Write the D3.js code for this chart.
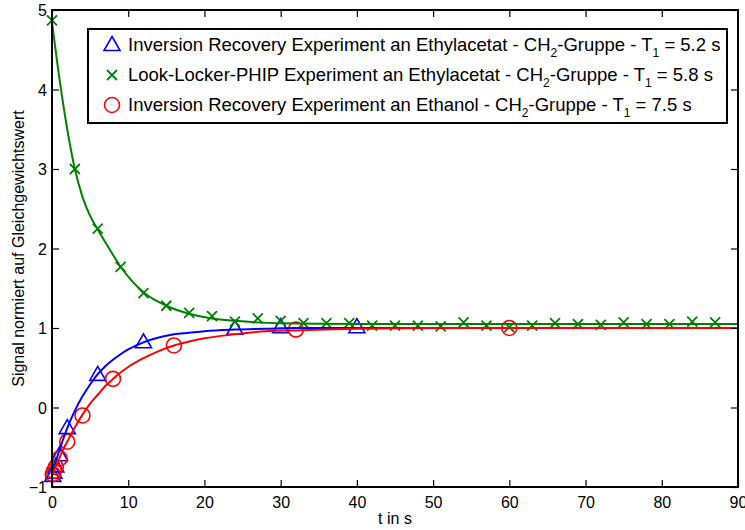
<!DOCTYPE html>
<html>
<head>
<meta charset="utf-8">
<script src="https://cdn.jsdelivr.net/npm/d3@7"></script>
<style>
  body { margin: 0; background: #fff; }
  svg { display: block; font-family: "Liberation Sans", Arial, Helvetica, sans-serif; }
</style>
</head>
<body>
<div id="chart"></div>
<script>
// data
const tBlue = [0.1, 0.25, 0.5, 1, 2, 6, 12, 24, 30, 40];
const vBlue = [-0.86, -0.82, -0.74, -0.6, -0.26, 0.41, 0.82, 0.99, 1.01, 1.01];

const tGreen = [0, 3, 6, 9, 12, 15, 18, 21, 24, 27, 30, 33, 36, 39, 42, 45, 48, 51, 54, 57, 60, 63, 66, 69, 72, 75, 78, 81, 84, 87];
const vGreen = [4.87, 3.0, 2.25, 1.77, 1.44, 1.28, 1.19, 1.15, 1.08, 1.12, 1.09, 1.06, 1.06, 1.06, 1.03, 1.03, 1.03, 1.02, 1.07, 1.03, 1.01, 1.03, 1.06, 1.05, 1.04, 1.07, 1.05, 1.05, 1.08, 1.07];

const tRed = [0.1, 0.25, 0.5, 1, 2, 4, 8, 16, 32, 60];
const vRed = [-0.84, -0.8, -0.75, -0.64, -0.43, -0.1, 0.36, 0.78, 0.98, 1.0];

// fit curves
const tFitBlue = [0, 0.5, 1, 1.5, 2, 3, 4, 5, 6, 7, 8, 9, 10, 12, 14, 16, 18, 20, 24, 28, 32, 40, 90];
const vFitBlue = [-0.85, -0.68, -0.53, -0.39, -0.26, -0.04, 0.14, 0.29, 0.42, 0.52, 0.6, 0.67, 0.73, 0.82, 0.88, 0.92, 0.94, 0.96, 0.98, 0.99, 1.0, 1.0, 1.0];

const tFitGreen = [0, 1, 2, 3, 4, 5, 6, 7.5, 9, 10.5, 12, 15, 18, 21, 24, 30, 40, 90];
const vFitGreen = [4.85, 4.12, 3.5, 3.0, 2.65, 2.41, 2.24, 2.0, 1.77, 1.59, 1.45, 1.28, 1.18, 1.12, 1.09, 1.06, 1.05, 1.05];

const tFitRed = [0, 0.5, 1, 1.5, 2, 3, 4, 5, 6, 7, 8, 9, 10, 12, 14, 16, 18, 20, 24, 28, 32, 40, 50, 90];
const vFitRed = [-0.86, -0.74, -0.63, -0.52, -0.43, -0.25, -0.09, 0.05, 0.16, 0.27, 0.36, 0.44, 0.51, 0.62, 0.71, 0.78, 0.83, 0.87, 0.92, 0.96, 0.97, 0.99, 1.0, 1.0];

const xTicks = [0, 10, 20, 30, 40, 50, 60, 70, 80, 90];
const yTicks = [-1, 0, 1, 2, 3, 4, 5];

const legendRows = [
  { sym: 'tri', color: '#0000ff', parts: ['Inversion Recovery Experiment an Ethylacetat - CH', '2', '-Gruppe - T', '1', ' = 5.2 s'] },
  { sym: 'x', color: '#008000', parts: ['Look-Locker-PHIP Experiment an Ethylacetat - CH', '2', '-Gruppe - T', '1', ' = 5.8 s'] },
  { sym: 'circ', color: '#ff0000', parts: ['Inversion Recovery Experiment an Ethanol - CH', '2', '-Gruppe - T', '1', ' = 7.5 s'] }
];

const width = 745;
const height = 530;
const margin = { top: 10, right: 7, bottom: 43, left: 52 };
const iw = width - margin.left - margin.right;
const ih = height - margin.top - margin.bottom;

const svg = d3.select('#chart')
  .append('svg')
    .attr('width', width)
    .attr('height', height);

const g = svg.append('g')
  .attr('transform', `translate(${margin.left},${margin.top})`);

const x = d3.scaleLinear().domain([0, 90]).range([0, iw]);
const y = d3.scaleLinear().domain([-1, 5]).range([ih, 0]);

const zip = (ts, vs) => ts.map((t, i) => [t, vs[i]]);

// markers
function drawMarker(sel, sym, color) {
  if (sym === 'tri') {
    sel.append('path')
      .attr('d', 'M0,-8.5L8,5.5L-8,5.5Z')
      .attr('fill', 'none').attr('stroke', color).attr('stroke-width', 1.6);
  } else if (sym === 'circ') {
    sel.append('circle')
      .attr('r', 7.5)
      .attr('fill', 'none').attr('stroke', color).attr('stroke-width', 1.6);
  } else {
    sel.append('path')
      .attr('d', 'M-5,-5L5,5M-5,5L5,-5')
      .attr('fill', 'none').attr('stroke', color).attr('stroke-width', 1.8);
  }
}

const series = [
  { pts: zip(tBlue, vBlue), sym: 'tri', color: '#0000ff' },
  { pts: zip(tGreen, vGreen), sym: 'x', color: '#008000' },
  { pts: zip(tRed, vRed), sym: 'circ', color: '#ff0000' }
];

series.forEach(s => {
  g.append('g').selectAll('g')
    .data(s.pts)
    .enter()
    .append('g')
      .attr('transform', d => `translate(${x(d[0])},${y(d[1])})`)
      .each(function () { drawMarker(d3.select(this), s.sym, s.color); });
});

// fit lines
const line = d3.line()
  .x(d => x(d[0]))
  .y(d => y(d[1]))
  .curve(d3.curveMonotoneX);

const fits = [
  { pts: zip(tFitBlue, vFitBlue), color: '#0000ff' },
  { pts: zip(tFitGreen, vFitGreen), color: '#008000' },
  { pts: zip(tFitRed, vFitRed), color: '#ff0000' }
];

fits.forEach(f => {
  g.append('path')
    .datum(f.pts)
    .attr('d', line)
    .attr('fill', 'none')
    .attr('stroke', f.color)
    .attr('stroke-width', 2);
});

// axes, ticks pointing inwards, box on
const tickLen = 7;
const axisFont = 16;

const xAxis = g.append('g')
  .attr('transform', `translate(0,${ih})`)
  .call(d3.axisBottom(x).tickValues(xTicks).tickSizeInner(-tickLen).tickSizeOuter(0).tickPadding(10).tickFormat(d3.format('d')));
const xAxisTop = g.append('g')
  .call(d3.axisTop(x).tickValues(xTicks).tickSizeInner(-tickLen).tickSizeOuter(0).tickFormat(''));
const yAxis = g.append('g')
  .call(d3.axisLeft(y).tickValues(yTicks).tickSizeInner(-tickLen).tickSizeOuter(0).tickPadding(5).tickFormat(d3.format('d')));
const yAxisRight = g.append('g')
  .attr('transform', `translate(${iw},0)`)
  .call(d3.axisRight(y).tickValues(yTicks).tickSizeInner(-tickLen).tickSizeOuter(0).tickFormat(''));

[xAxis, xAxisTop, yAxis, yAxisRight].forEach(a => {
  a.select('.domain').remove();
  a.selectAll('line').attr('stroke', '#000').attr('stroke-width', 1.2);
  a.selectAll('text')
    .attr('fill', '#000')
    .style('font-family', '"Liberation Sans", Arial, sans-serif')
    .style('font-size', axisFont + 'px');
});
yAxis.selectAll('text').attr('dy', '0.36em');

g.append('rect')
  .attr('width', iw)
  .attr('height', ih)
  .attr('fill', 'none')
  .attr('stroke', '#000')
  .attr('stroke-width', 2);

// axis titles
svg.append('text')
  .attr('x', margin.left + x(45))
  .attr('y', 524)
  .attr('text-anchor', 'middle')
  .style('font-size', '16px')
  .text('t in s');

svg.append('text')
  .attr('transform', `translate(24,${margin.top + ih / 2}) rotate(-90)`)
  .attr('text-anchor', 'middle')
  .style('font-size', '16px')
  .text('Signal normiert auf Gleichgewichtswert');

// legend
const legend = svg.append('g');
legend.append('rect')
  .attr('x', 88).attr('y', 29)
  .attr('width', 639).attr('height', 94)
  .attr('fill', '#fff')
  .attr('stroke', '#000')
  .attr('stroke-width', 2);

legendRows.forEach((r, i) => {
  const cy = 45 + i * 30;
  const m = legend.append('g').attr('transform', `translate(112,${cy})`);
  drawMarker(m, r.sym, r.color);
  const t = legend.append('text')
    .attr('x', 128)
    .attr('y', cy + 6)
    .style('font-size', '18.5px');
  r.parts.forEach((p, k) => {
    const sub = k === 1 || k === 3;
    const ts = t.append('tspan').text(p);
    if (sub) ts.attr('dy', 6).style('font-size', '12px');
    else if (k > 0) ts.attr('dy', -6);
  });
});
</script>
</body>
</html>
